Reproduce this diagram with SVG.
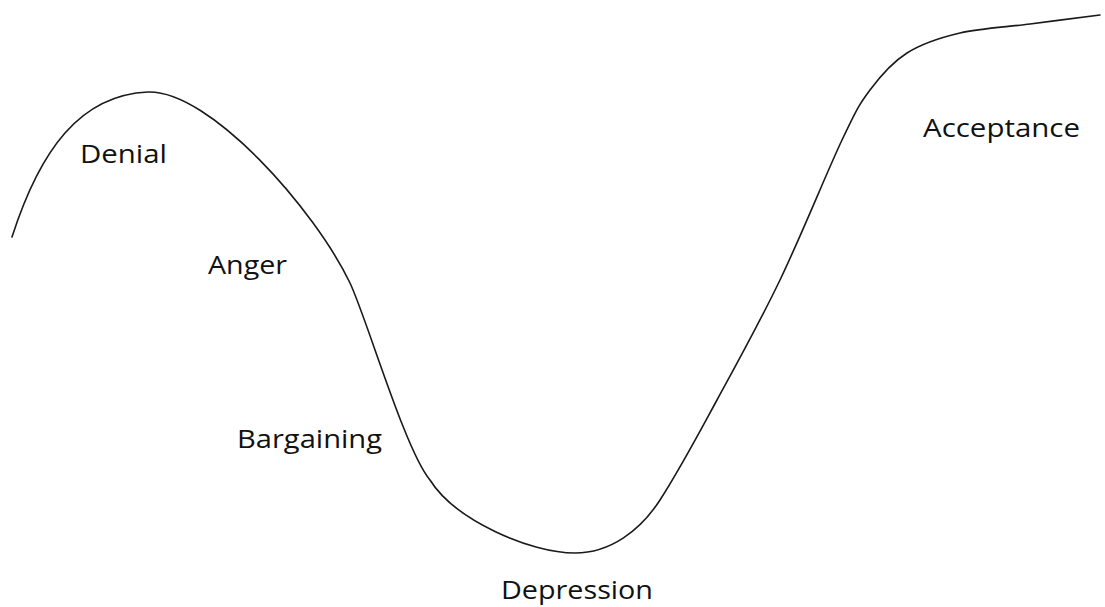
<svg xmlns="http://www.w3.org/2000/svg" width="1105" height="607" viewBox="0 0 1105 607">
  <style>
    .curve { fill: none; stroke: #1a1a1a; stroke-width: 1.6; stroke-linecap: round; stroke-linejoin: round; }
    .lbl { font-family: "Open Sans", "Liberation Sans", sans-serif; font-size: 26px; fill: #111; }
  </style>
  <rect width="1105" height="607" fill="#ffffff"/>
  <g id="connectors">
    <path class="curve" d="M12,237 C40,150 80,95 148,92 C210,90 315,210 350,283 C367,319 405,450 430,480 C455,520 530,553 575,553 C610,553 640,531 660,500 C680,469 697,436.7 717,400 C737,363.3 759.2,323.3 780,280 C800.8,236.7 827,171.7 842,140 C857,108.3 859.2,104.5 870,90 C880.8,75.5 892,62.5 907,53 C922,43.5 939.5,37.8 960,33 C980.5,28.2 1006.7,27 1030,24 C1053.3,21 1088.3,16.5 1100,15"/>
  </g>
  <g id="denial"><text class="lbl" x="80" y="163" textLength="87" lengthAdjust="spacingAndGlyphs">Denial</text></g>
  <g id="anger"><text class="lbl" x="208" y="274" textLength="79" lengthAdjust="spacingAndGlyphs">Anger</text></g>
  <g id="bargaining"><text class="lbl" x="237" y="448" textLength="145" lengthAdjust="spacingAndGlyphs">Bargaining</text></g>
  <g id="depression"><text class="lbl" x="501" y="599" textLength="152" lengthAdjust="spacingAndGlyphs">Depression</text></g>
  <g id="acceptance"><text class="lbl" x="923" y="137" textLength="157" lengthAdjust="spacingAndGlyphs">Acceptance</text></g>
</svg>
